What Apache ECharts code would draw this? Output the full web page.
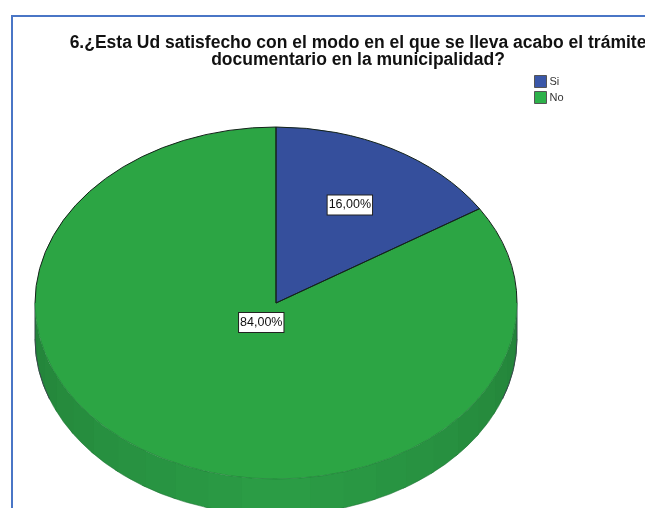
<!DOCTYPE html>
<html>
<head>
<meta charset="utf-8">
<style>html,body{margin:0;padding:0;background:#fff}#chart{width:645px;height:508px}</style>
<script src="https://cdn.jsdelivr.net/npm/echarts@6/dist/echarts.min.js"></script>
</head>
<body>
<div id="chart"></div>
<script>
// Encuesta: satisfacción con el trámite documentario
const categories = ['Si', 'No'];
const percentages = [16, 84];
const sliceColors = ['#354f9c', '#2ca544'];
const legendColors = ['#3a57a8', '#2db14a'];
const labelReach = [0.636, 0.127];   // label distance from the centre, as a share of the radius
const titleText = '6.¿Esta Ud satisfecho con el modo en el que se lleva acabo el trámite\ndocumentario en la municipalidad?';

// Tilted pie geometry
const cx = 276, cy = 303, rx = 241, ry = 176, depth = 36;
const wallBands = 22;
const sideShadow = 20;   // degrees of wall outline kept dark at each side

const total = percentages.reduce((a, b) => a + b, 0);
const fmt = v => v.toFixed(2).replace('.', ',') + '%';
// Angles run clockwise from twelve o'clock
const rimPoint = (deg, dy = 0) => {
  const t = deg * Math.PI / 180;
  return [cx + rx * Math.sin(t), cy - ry * Math.cos(t) + dy];
};
const arcTo = (deg0, deg1, dy = 0) => {
  // Split long arcs so the large-arc flag never matters
  let d = '';
  const steps = Math.ceil(Math.abs(deg1 - deg0) / 90);
  for (let i = 1; i <= steps; i++) {
    const p = rimPoint(deg0 + (deg1 - deg0) * i / steps, dy);
    d += ` A ${rx} ${ry} 0 0 ${deg1 > deg0 ? 1 : 0} ${p[0]} ${p[1]}`;
  }
  return d;
};
const arcPath = (a, b, dy = 0) => {
  const s = rimPoint(a, dy);
  return `M ${s[0]} ${s[1]}` + arcTo(a, b, dy);
};
const pathEl = (d, style, z2) => ({ type: 'path', shape: { pathData: d }, style, z2, silent: true });

function wallShade(deg) {
  // Darker toward the sides of the disc, lighter at the front
  const k = Math.abs(deg - 180) / 90;
  const mix = (a, b) => Math.round(a + (b - a) * k);
  return `rgb(${mix(43, 35)},${mix(157, 130)},${mix(70, 57)})`;
}

function renderSlice(index) {
  return function (params, api) {
    const value = api.value(0);
    const before = percentages.slice(0, index).reduce((a, b) => a + b, 0);
    const a0 = before / total * 360;
    const a1 = a0 + value / total * 360;
    const children = [];

    // Side wall along the front half of the disc; each band laps under the next to hide seams
    const from = Math.max(a0, 90), to = Math.min(a1, 270);
    if (to > from) {
      for (let i = 0; i < wallBands; i++) {
        const s = from + (to - from) * i / wallBands;
        const e = Math.min(to, from + (to - from) * (i + 1) / wallBands + 1);
        const p = rimPoint(e, depth);
        const shade = wallShade(s + (to - from) / wallBands / 2);
        const d = arcPath(s, e) + ` L ${p[0]} ${p[1]}` + arcTo(e, s, depth) + ' Z';
        children.push(pathEl(d, { fill: shade }, 1 + i * 0.001));
      }
      children.push(pathEl(arcPath(from, to, depth), { fill: null, stroke: '#1d6f33', lineWidth: 0.5 }, 2));
      // Dark silhouette where the wall turns away at either side
      const sideStyle = { fill: null, stroke: '#36484a', lineWidth: 1 };
      const r0 = rimPoint(90), r1 = rimPoint(270);
      children.push(pathEl(`M ${r0[0]} ${r0[1]} L ${r0[0]} ${r0[1] + depth}` + arcTo(90, 90 + sideShadow, depth), sideStyle, 2));
      children.push(pathEl(`M ${r1[0]} ${r1[1]} L ${r1[0]} ${r1[1] + depth}` + arcTo(270, 270 - sideShadow, depth), sideStyle, 2));
    }

    // Top face
    const start = rimPoint(a0);
    const face = `M ${cx} ${cy} L ${start[0]} ${start[1]}` + arcTo(a0, a1) + ' Z';
    children.push(pathEl(face, { fill: sliceColors[index] }, 3));

    // Front of the rim stays soft, the back and the radial edges are black
    const frontFrom = Math.max(a0, 90), frontTo = Math.min(a1, 270);
    if (frontTo > frontFrom) {
      children.push(pathEl(arcPath(frontFrom, frontTo), { fill: null, stroke: '#1f7c38', lineWidth: 0.7 }, 4));
    }
    const edgeStyle = { fill: null, stroke: '#14231a', lineWidth: 1 };
    if (a0 < 90) children.push(pathEl(arcPath(a0, Math.min(a1, 90)), edgeStyle, 5));
    if (a1 > 270) children.push(pathEl(arcPath(Math.max(a0, 270), a1), edgeStyle, 5));
    const e0 = rimPoint(a0), e1 = rimPoint(a1);
    children.push(pathEl(`M ${e0[0]} ${e0[1]} L ${cx} ${cy} L ${e1[0]} ${e1[1]}`, edgeStyle, 5));

    // Percentage label
    const mid = (a0 + a1) / 2 * Math.PI / 180;
    children.push({
      type: 'text', z2: 10, silent: true,
      x: cx + rx * labelReach[index] * Math.sin(mid),
      y: cy - ry * labelReach[index] * Math.cos(mid),
      style: {
        text: fmt(value), align: 'center', verticalAlign: 'middle',
        font: '12.5px "Liberation Sans", Arial, sans-serif', fill: '#111',
        backgroundColor: '#fff', borderColor: '#222', borderWidth: 1,
        padding: [3, 1, 3, 1]
      }
    });
    return { type: 'group', children };
  };
}

const chart = echarts.init(document.getElementById('chart'), null, { renderer: 'canvas' });
chart.setOption({
  animation: false,
  backgroundColor: '#fff',
  title: {
    text: titleText, left: 353, top: 30, textAlign: 'center',
    textStyle: { fontFamily: '"Liberation Sans", Arial, sans-serif', fontWeight: 'bold', fontSize: 17.5, lineHeight: 17, color: '#111' }
  },
  legend: {
    orient: 'vertical', left: 529, top: 70, itemWidth: 12, itemHeight: 12, itemGap: 3,
    selectedMode: false, icon: 'rect',
    textStyle: { fontFamily: '"Liberation Sans", Arial, sans-serif', fontSize: 11, color: '#333', padding: [0, 0, 0, -2] },
    data: categories.map((name, i) => ({
      name, itemStyle: { color: legendColors[i], borderColor: '#555', borderWidth: 1 }
    }))
  },
  graphic: [{
    // Frame around the chart, running off the right and bottom of the page
    type: 'rect', silent: true, z: -1,
    shape: { x: 12, y: 16, width: 700, height: 600 },
    style: { fill: '#fff', stroke: '#4a76c6', lineWidth: 2 }
  }],
  // "No" goes first so its wall and face sit under the "Si" slice
  series: [1, 0].map(i => ({
    type: 'custom', name: categories[i], coordinateSystem: 'none',
    itemStyle: { color: sliceColors[i] },
    data: [[percentages[i]]],
    renderItem: renderSlice(i)
  }))
});
</script>
</body>
</html>
